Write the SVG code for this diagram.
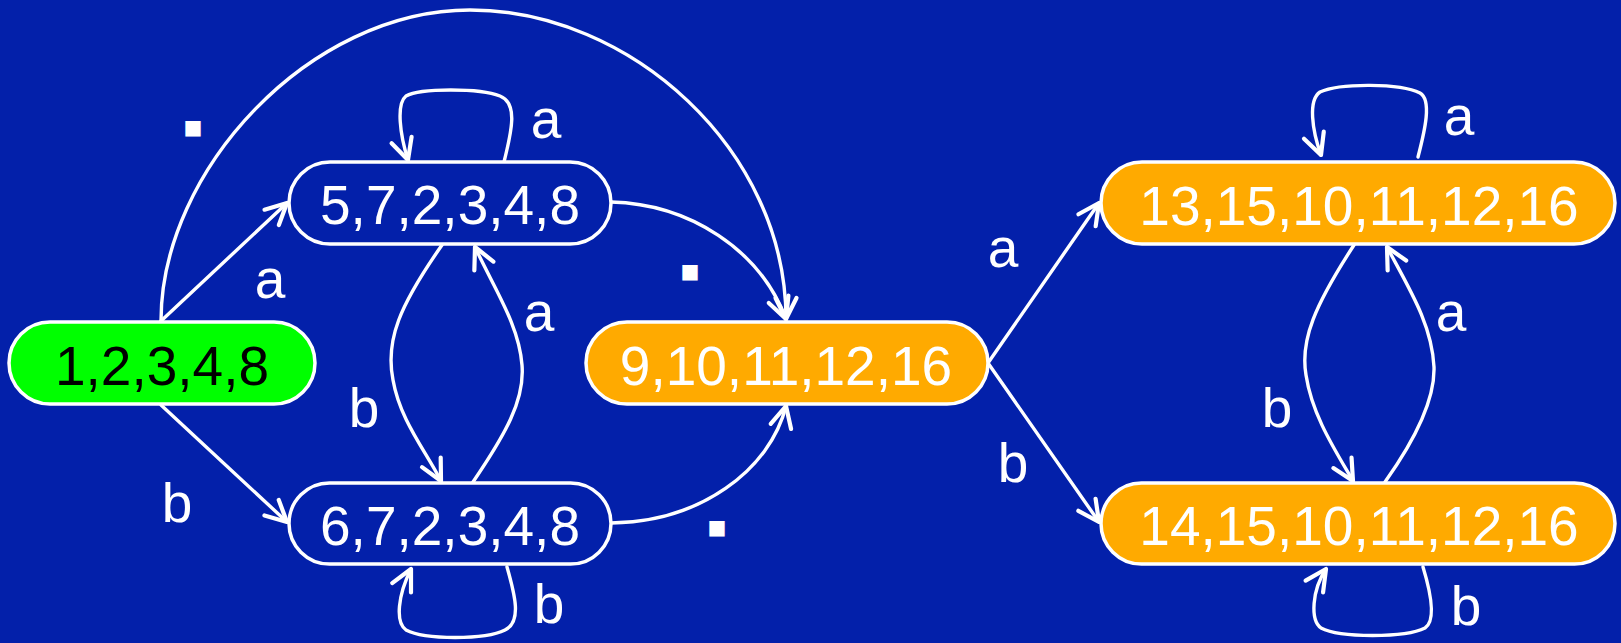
<svg xmlns="http://www.w3.org/2000/svg" width="1621" height="643" viewBox="0 0 1621 643">
<defs>
<style>
.bg{fill:#0320AA}
.node{stroke:#FFFFFF;stroke-width:3.5}
.plain{fill:#0320AA}
.start{fill:#00FF00}
.final{fill:#FFAA00}
.lbl{font-family:"Liberation Sans",Arial,sans-serif;font-size:55px;text-anchor:middle;fill:#FFFFFF}
.dark{fill:#000000}
.edge{fill:none;stroke:#FFFFFF;stroke-width:3.4;stroke-linecap:round;marker-end:url(#arr)}
.dot{font-family:"DejaVu Sans",sans-serif;font-size:20px;text-anchor:middle;fill:#FFFFFF}
</style>
<marker id="arr" markerUnits="userSpaceOnUse" viewBox="-26 -15 30 30" refX="0" refY="0" markerWidth="30" markerHeight="30" orient="auto">
<path d="M-21,-10.5 L0,0 L-21,10.5" fill="none" stroke="#FFFFFF" stroke-width="4.2" stroke-linecap="round" stroke-linejoin="round"/>
</marker>
</defs>
<rect class="bg" x="0" y="0" width="1621" height="643"/>
<g id="connectors">
<path class="edge" d="M161,321 L287,203"/>
<text class="lbl" x="270" y="298">a</text>
<path class="edge" d="M161,405 L287,522"/>
<text class="lbl" x="177" y="522">b</text>
<path class="edge" d="M161,321 C161,170 310,10 470,10 C630,10 786,150 786,319"/>
<text class="dot" x="193" y="134">■</text>
<path class="edge" d="M611,202 C690,204 760,250 786,319"/>
<text class="dot" x="690" y="278">■</text>
<path class="edge" d="M611,523 C700,522 770,470 786,406"/>
<text class="dot" x="717" y="534">■</text>
<path class="edge" d="M504,162 C512,130 518,103 500,96 C480,88 420,88 406,96 C396,104 400,135 408,160"/>
<text class="lbl" x="546" y="138">a</text>
<path class="edge" d="M507,567 C515,595 522,622 505,630 C485,640 425,640 406,630 C395,622 398,595 411,569"/>
<text class="lbl" x="549" y="623">b</text>
<path class="edge" d="M442,245 C400,305 385,340 393,380 C400,420 425,450 441,481"/>
<text class="lbl" x="364" y="427">b</text>
<path class="edge" d="M473,482 C505,435 525,400 522,365 C519,325 495,290 475,247"/>
<text class="lbl" x="539" y="331">a</text>
<path class="edge" d="M988,363 L1099,203"/>
<text class="lbl" x="1003" y="267">a</text>
<path class="edge" d="M988,363 L1099,522"/>
<text class="lbl" x="1013" y="482">b</text>
<path class="edge" d="M1418,157 C1425,130 1432,100 1420,93 C1400,83 1340,83 1320,92 C1308,100 1312,130 1321,155"/>
<text class="lbl" x="1459" y="135">a</text>
<path class="edge" d="M1354,245 C1315,305 1300,340 1306,375 C1312,415 1335,450 1353,481"/>
<text class="lbl" x="1277" y="427">b</text>
<path class="edge" d="M1385,482 C1415,440 1435,400 1434,367 C1432,325 1410,290 1387,247"/>
<text class="lbl" x="1451" y="331">a</text>
<path class="edge" d="M1423,567 C1430,590 1437,620 1425,628 C1405,638 1340,638 1321,628 C1310,620 1312,590 1326,569"/>
<text class="lbl" x="1466" y="625">b</text>
</g>
<g id="n1">
<rect class="node start" x="9" y="322" width="306" height="82" rx="41"/>
<text class="lbl dark" x="162" y="385">1,2,3,4,8</text>
</g>
<g id="n2">
<rect class="node plain" x="289" y="162" width="322" height="82" rx="41"/>
<text class="lbl" x="450" y="224">5,7,2,3,4,8</text>
</g>
<g id="n3">
<rect class="node plain" x="289" y="483" width="322" height="81" rx="40.5"/>
<text class="lbl" x="450" y="545">6,7,2,3,4,8</text>
</g>
<g id="n4">
<rect class="node final" x="586" y="322" width="402" height="82" rx="41"/>
<text class="lbl" x="786" y="385">9,10,11,12,16</text>
</g>
<g id="n5">
<rect class="node final" x="1101" y="162" width="514" height="82" rx="41"/>
<text class="lbl" x="1359" y="225">13,15,10,11,12,16</text>
</g>
<g id="n6">
<rect class="node final" x="1101" y="483" width="514" height="81" rx="40.5"/>
<text class="lbl" x="1359" y="545">14,15,10,11,12,16</text>
</g>
</svg>
